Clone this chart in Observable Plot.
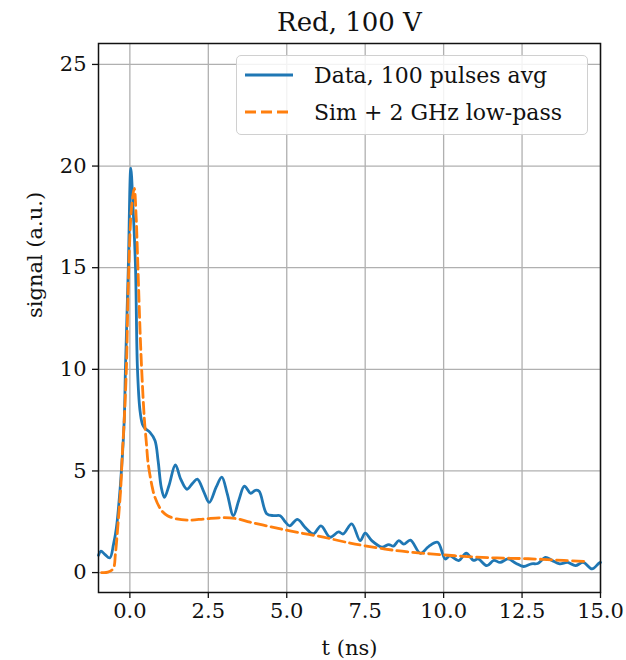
<!DOCTYPE html>
<html>
<head>
<meta charset="utf-8">
<script src="https://cdn.jsdelivr.net/npm/d3@7"></script>
<script src="https://cdn.jsdelivr.net/npm/@observablehq/plot@0.6"></script>
<style>
  html, body { margin: 0; padding: 0; background: white; }
  #wrap { position: relative; width: 626px; height: 660px; overflow: hidden; }
  #legend {
    position: absolute; left: 236px; top: 55px; width: 352px; height: 80px;
    border: 1px solid #d0d0d0; border-radius: 5px; background: rgba(255,255,255,0.85);
    font-family: "DejaVu Serif", serif; font-size: 22px; color: #111; box-sizing: border-box;
  }
  .row { position: absolute; left: 8px; height: 30px; display: flex; align-items: center; }
  .row svg { margin-right: 19px; }
</style>
</head>
<body>
<div id="wrap"></div>
<script>
// ---- data ----
const title = "Red, 100 V";
const xLabel = "t (ns)";
const yLabel = "signal (a.u.)";
const seriesNames = ["Data, 100 pulses avg", "Sim + 2 GHz low-pass"];
const xTicks = [0, 2.5, 5, 7.5, 10, 12.5, 15];
const yTicks = [0, 5, 10, 15, 20, 25];

const dataT = [-1.0, -0.92, -0.8, -0.64, -0.52, -0.43, -0.35, -0.27, -0.18, -0.14, -0.05, 0.03, 0.1, 0.18, 0.24, 0.32, 0.4, 0.48, 0.64, 0.8, 0.9, 1.0, 1.1, 1.25, 1.45, 1.62, 1.82, 2.0, 2.15, 2.35, 2.53, 2.75, 2.93, 3.1, 3.3, 3.48, 3.65, 3.85, 4.0, 4.12, 4.36, 4.58, 4.79, 4.95, 5.09, 5.34, 5.6, 5.85, 6.09, 6.38, 6.65, 6.8, 7.07, 7.34, 7.5, 7.71, 8.03, 8.25, 8.4, 8.57, 8.73, 8.94, 9.26, 9.52, 9.81, 10.05, 10.2, 10.48, 10.72, 10.95, 11.1, 11.38, 11.6, 11.8, 12.05, 12.3, 12.55, 12.8, 13.0, 13.25, 13.45, 13.7, 13.95, 14.2, 14.45, 14.73, 14.95, 15.0];
const dataV = [0.85, 1.05, 0.9, 0.72, 1.4, 2.2, 3.4, 5.0, 7.5, 10.1, 15.0, 19.9, 18.0, 15.0, 10.1, 8.0, 7.3, 7.1, 6.9, 6.5, 5.5, 4.2, 3.7, 4.3, 5.3, 4.6, 4.1, 4.4, 4.6, 4.0, 3.45, 4.2, 4.7, 3.9, 2.8, 3.6, 4.25, 3.9, 4.05, 4.0, 2.9, 2.8, 2.8, 2.5, 2.3, 2.62, 2.2, 1.9, 2.3, 1.74, 2.0, 1.9, 2.4, 1.57, 1.94, 1.57, 1.25, 1.38, 1.3, 1.57, 1.4, 1.6, 0.95, 1.28, 1.49, 0.67, 0.82, 0.59, 0.95, 0.6, 0.67, 0.34, 0.6, 0.5, 0.67, 0.46, 0.3, 0.43, 0.45, 0.75, 0.6, 0.43, 0.5, 0.34, 0.5, 0.18, 0.46, 0.5];

const simT = [-0.9, -0.7, -0.53, -0.46, -0.37, -0.29, -0.24, -0.18, -0.11, -0.05, 0.05, 0.14, 0.2, 0.24, 0.35, 0.46, 0.53, 0.58, 0.7, 0.8, 1.01, 1.2, 1.49, 1.86, 2.39, 2.98, 3.4, 3.83, 4.5, 5.1, 6.17, 7.02, 7.45, 8.51, 9.58, 10.64, 11.7, 12.7, 13.83, 14.5];
const simV = [0.0, 0.02, 0.2, 0.93, 2.55, 4.2, 5.85, 7.5, 10.1, 14.2, 17.9, 18.9, 17.5, 15.8, 10.9, 7.6, 6.3, 5.4, 4.3, 3.7, 3.05, 2.8, 2.64, 2.58, 2.64, 2.7, 2.65, 2.48, 2.25, 2.05, 1.74, 1.45, 1.33, 1.08, 0.92, 0.8, 0.72, 0.68, 0.6, 0.55];

const colors = ["#1f77b4", "#ff7f0e"];

const dataRows = dataT.map((t, i) => ({t, v: dataV[i]}));
const simRows = simT.map((t, i) => ({t, v: simV[i]}));

const FONT = "DejaVu Serif";
const chart = Plot.plot({
  width: 626, height: 660,
  marginLeft: 98, marginRight: 26, marginTop: 43, marginBottom: 68,
  style: {fontFamily: FONT, fontSize: "21px", color: "#111", background: "white"},
  x: {domain: [-1, 15]},
  y: {domain: [-0.98, 26.03]},
  marks: [
    Plot.gridX(xTicks, {stroke: "#b0b0b0", strokeOpacity: 1, strokeWidth: 1.3}),
    Plot.gridY(yTicks, {stroke: "#b0b0b0", strokeOpacity: 1, strokeWidth: 1.3}),
    Plot.line(dataRows, {x: "t", y: "v", stroke: colors[0], strokeWidth: 2.8, curve: "catmull-rom"}),
    Plot.line(simRows, {x: "t", y: "v", stroke: colors[1], strokeWidth: 2.8, strokeDasharray: "11,5", curve: "catmull-rom"}),
    Plot.frame({stroke: "#111", strokeWidth: 1.5}),
    Plot.axisX(xTicks, {tickFormat: d => d.toFixed(1), tickSize: 6, tickPadding: 5, label: null, fontSize: 21, strokeWidth: 1.3}),
    Plot.axisY(yTicks, {tickSize: 6, tickPadding: 6, label: null, fontSize: 21, strokeWidth: 1.3}),
    Plot.text([title], {text: d => d, frameAnchor: "top", dy: -21, lineAnchor: "middle", fontSize: 26}),
    Plot.text([xLabel], {text: d => d, frameAnchor: "bottom", dy: 56, lineAnchor: "middle", fontSize: 21}),
    Plot.text([yLabel], {text: d => d, frameAnchor: "left", dx: -63, rotate: -90, lineAnchor: "middle", fontSize: 21})
  ]
});
const wrap = document.getElementById("wrap");
wrap.appendChild(chart);

// legend
const legend = document.createElement("div");
legend.id = "legend";
seriesNames.forEach((name, i) => {
  const row = document.createElement("div");
  row.className = "row";
  row.style.top = (i === 0 ? 4 : 41) + "px";
  const ns = "http://www.w3.org/2000/svg";
  const s = document.createElementNS(ns, "svg");
  s.setAttribute("width", 50); s.setAttribute("height", 10);
  const l = document.createElementNS(ns, "line");
  l.setAttribute("x1", 0); l.setAttribute("x2", 48); l.setAttribute("y1", 5); l.setAttribute("y2", 5);
  l.setAttribute("stroke", colors[i]); l.setAttribute("stroke-width", 2.8);
  if (i === 1) l.setAttribute("stroke-dasharray", "11,5");
  s.appendChild(l);
  row.appendChild(s);
  const tx = document.createElement("span");
  tx.textContent = name;
  row.appendChild(tx);
  legend.appendChild(row);
});
wrap.appendChild(legend);
</script>
</body>
</html>
